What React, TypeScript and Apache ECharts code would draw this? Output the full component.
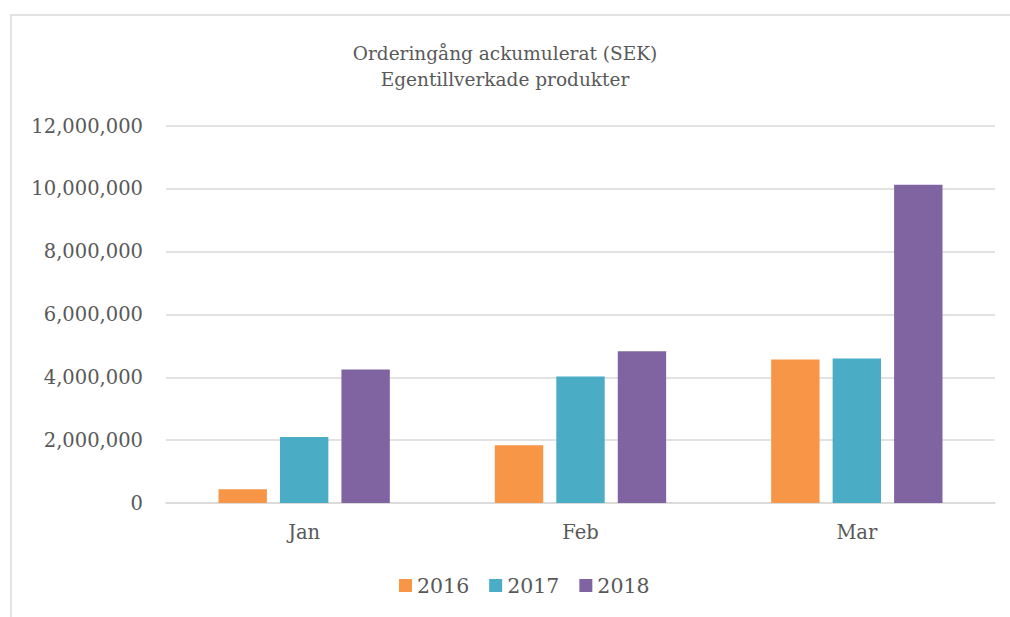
import React, { useEffect, useRef } from "react";
import * as echarts from "echarts";

const categories = ["Jan", "Feb", "Mar"];
const seriesNames = ["2016", "2017", "2018"];
const values2016 = [440000, 1840000, 4570000];
const values2017 = [2100000, 4030000, 4600000];
const values2018 = [4250000, 4830000, 10130000];
const colors = ["#F79646", "#4BACC6", "#8064A2"];
const titleLines = ["Orderingång ackumulerat (SEK)", "Egentillverkade produkter"];

const FONT = "'DejaVu Serif', serif";

export default function App() {
  const ref = useRef<HTMLDivElement>(null);
  useEffect(() => {
    const chart = echarts.init(ref.current!, null, { renderer: "svg" });
    const data = [values2016, values2017, values2018];
    chart.setOption({
      animation: false,
      backgroundColor: "#ffffff",
      title: {
        text: titleLines.join("\n"),
        left: "center",
        top: 35,
        textStyle: {
          fontFamily: FONT,
          fontSize: 18.5,
          fontWeight: "normal",
          color: "#595959",
          lineHeight: 26,
        },
      },
      graphic: [
        {
          type: "rect",
          shape: { x: 11, y: 15, width: 1100, height: 700 },
          style: { fill: "none", stroke: "#d9d9d9", lineWidth: 1.5 },
          silent: true,
          z: -1,
        },
      ],
      legend: {
        data: seriesNames,
        top: 570,
        left: 394,
        icon: "rect",
        itemWidth: 13,
        itemHeight: 13,
        itemGap: 20,
        textStyle: { fontFamily: FONT, fontSize: 20.5, color: "#595959" },
      },
      grid: { left: 166, right: 15, top: 126, bottom: 114 },
      xAxis: {
        type: "category",
        data: categories,
        axisLine: { show: true, lineStyle: { color: "#d9d9d9", width: 1.5 } },
        axisTick: { show: false },
        axisLabel: {
          fontFamily: FONT,
          fontSize: 19.5,
          color: "#595959",
          margin: 19,
        },
      },
      yAxis: {
        type: "value",
        min: 0,
        max: 12000000,
        interval: 2000000,
        axisLine: { show: false },
        axisTick: { show: false },
        splitLine: { lineStyle: { color: "#d9d9d9", width: 1.5 } },
        axisLabel: {
          fontFamily: FONT,
          fontSize: 19.5,
          color: "#595959",
          margin: 23,
          formatter: (v: number) => v.toLocaleString("en-US"),
        },
      },
      series: seriesNames.map((name, i) => ({
        name,
        type: "bar",
        data: data[i],
        barGap: "27%",
        barCategoryGap: "38%",
        itemStyle: { color: colors[i] },
      })),
    });
    return () => chart.dispose();
  }, []);
  return (
    <div
      ref={ref}
      style={{ position: "fixed", left: 0, top: 0, width: 1010, height: 617 }}
    />
  );
}
